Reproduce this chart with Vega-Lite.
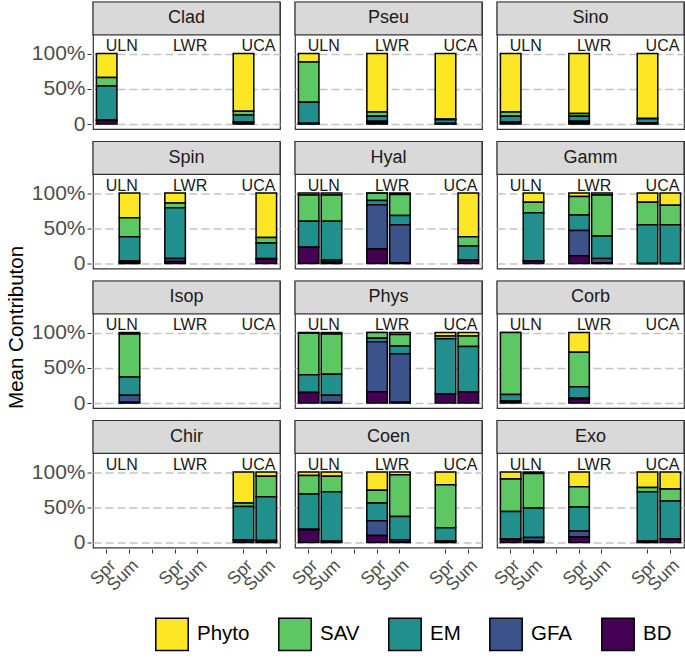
{
  "$schema": "https://vega.github.io/schema/vega-lite/v6.json",
  "padding": {"left": 6, "top": 0, "right": 4, "bottom": 5},
  "title": {"text": "Mean Contributon", "orient": "left", "anchor": "middle", "fontSize": 20.5, "fontWeight": "normal", "color": "black", "offset": 4},
  "config": {
    "font": "Liberation Sans",
    "view": {"stroke": "#333333", "strokeWidth": 1.2, "fill": "white"},
    "background": "white",
    "header": {"labels": false, "title": null, "labelFontSize": 0, "labelPadding": 0}
  },
  "data": {"values": [
    {"t":"Clad","x":"ULN Spr","Phyto":0.34,"SAV":0.12,"EM":0.48,"GFA":0.01,"BD":0.05},
    {"t":"Clad","x":"UCA Spr","Phyto":0.82,"SAV":0.05,"EM":0.10,"GFA":0.01,"BD":0.02},
    {"t":"Pseu","x":"ULN Spr","Phyto":0.12,"SAV":0.57,"EM":0.30,"GFA":0.005,"BD":0.005},
    {"t":"Pseu","x":"LWR Spr","Phyto":0.83,"SAV":0.06,"EM":0.07,"GFA":0.02,"BD":0.02},
    {"t":"Pseu","x":"UCA Spr","Phyto":0.93,"SAV":0.01,"EM":0.05,"GFA":0.005,"BD":0.005},
    {"t":"Sino","x":"ULN Spr","Phyto":0.83,"SAV":0.06,"EM":0.08,"GFA":0.01,"BD":0.02},
    {"t":"Sino","x":"LWR Spr","Phyto":0.85,"SAV":0.04,"EM":0.07,"GFA":0.02,"BD":0.02},
    {"t":"Sino","x":"UCA Spr","Phyto":0.92,"SAV":0.005,"EM":0.06,"GFA":0.005,"BD":0.01},
    {"t":"Spin","x":"ULN Sum","Phyto":0.35,"SAV":0.27,"EM":0.34,"GFA":0.02,"BD":0.02},
    {"t":"Spin","x":"LWR Spr","Phyto":0.14,"SAV":0.07,"EM":0.72,"GFA":0.04,"BD":0.03},
    {"t":"Spin","x":"UCA Sum","Phyto":0.63,"SAV":0.08,"EM":0.22,"GFA":0.005,"BD":0.065},
    {"t":"Hyal","x":"ULN Spr","Phyto":0.03,"SAV":0.37,"EM":0.37,"GFA":0.0,"BD":0.23},
    {"t":"Hyal","x":"ULN Sum","Phyto":0.03,"SAV":0.37,"EM":0.55,"GFA":0.03,"BD":0.02},
    {"t":"Hyal","x":"LWR Spr","Phyto":0.005,"SAV":0.10,"EM":0.06,"GFA":0.63,"BD":0.205},
    {"t":"Hyal","x":"LWR Sum","Phyto":0.02,"SAV":0.30,"EM":0.13,"GFA":0.54,"BD":0.01},
    {"t":"Hyal","x":"UCA Sum","Phyto":0.62,"SAV":0.13,"EM":0.20,"GFA":0.0,"BD":0.05},
    {"t":"Gamm","x":"ULN Sum","Phyto":0.13,"SAV":0.15,"EM":0.68,"GFA":0.005,"BD":0.035},
    {"t":"Gamm","x":"LWR Spr","Phyto":0.05,"SAV":0.26,"EM":0.22,"GFA":0.36,"BD":0.11},
    {"t":"Gamm","x":"LWR Sum","Phyto":0.03,"SAV":0.58,"EM":0.32,"GFA":0.06,"BD":0.01},
    {"t":"Gamm","x":"UCA Spr","Phyto":0.13,"SAV":0.32,"EM":0.55,"GFA":0.0,"BD":0.0},
    {"t":"Gamm","x":"UCA Sum","Phyto":0.175,"SAV":0.275,"EM":0.55,"GFA":0.0,"BD":0.0},
    {"t":"Isop","x":"ULN Sum","Phyto":0.02,"SAV":0.61,"EM":0.26,"GFA":0.10,"BD":0.01},
    {"t":"Phys","x":"ULN Spr","Phyto":0.01,"SAV":0.59,"EM":0.25,"GFA":0.0,"BD":0.15},
    {"t":"Phys","x":"ULN Sum","Phyto":0.02,"SAV":0.57,"EM":0.30,"GFA":0.10,"BD":0.01},
    {"t":"Phys","x":"LWR Spr","Phyto":0.0,"SAV":0.08,"EM":0.05,"GFA":0.71,"BD":0.16},
    {"t":"Phys","x":"LWR Sum","Phyto":0.03,"SAV":0.16,"EM":0.11,"GFA":0.69,"BD":0.01},
    {"t":"Phys","x":"UCA Spr","Phyto":0.05,"SAV":0.04,"EM":0.78,"GFA":0.0,"BD":0.13},
    {"t":"Phys","x":"UCA Sum","Phyto":0.05,"SAV":0.15,"EM":0.64,"GFA":0.0,"BD":0.16},
    {"t":"Corb","x":"ULN Spr","Phyto":0.0,"SAV":0.88,"EM":0.095,"GFA":0.0,"BD":0.025},
    {"t":"Corb","x":"LWR Spr","Phyto":0.28,"SAV":0.49,"EM":0.16,"GFA":0.01,"BD":0.06},
    {"t":"Chir","x":"UCA Spr","Phyto":0.44,"SAV":0.05,"EM":0.47,"GFA":0.005,"BD":0.035},
    {"t":"Chir","x":"UCA Sum","Phyto":0.06,"SAV":0.29,"EM":0.62,"GFA":0.01,"BD":0.02},
    {"t":"Coen","x":"ULN Spr","Phyto":0.05,"SAV":0.26,"EM":0.50,"GFA":0.01,"BD":0.18},
    {"t":"Coen","x":"ULN Sum","Phyto":0.06,"SAV":0.22,"EM":0.70,"GFA":0.01,"BD":0.01},
    {"t":"Coen","x":"LWR Spr","Phyto":0.26,"SAV":0.18,"EM":0.25,"GFA":0.21,"BD":0.10},
    {"t":"Coen","x":"LWR Sum","Phyto":0.04,"SAV":0.59,"EM":0.33,"GFA":0.03,"BD":0.01},
    {"t":"Coen","x":"UCA Spr","Phyto":0.18,"SAV":0.61,"EM":0.19,"GFA":0.0,"BD":0.02},
    {"t":"Exo","x":"ULN Spr","Phyto":0.10,"SAV":0.46,"EM":0.39,"GFA":0.005,"BD":0.045},
    {"t":"Exo","x":"ULN Sum","Phyto":0.02,"SAV":0.49,"EM":0.42,"GFA":0.05,"BD":0.02},
    {"t":"Exo","x":"LWR Spr","Phyto":0.21,"SAV":0.285,"EM":0.34,"GFA":0.085,"BD":0.08},
    {"t":"Exo","x":"UCA Spr","Phyto":0.22,"SAV":0.06,"EM":0.70,"GFA":0.0,"BD":0.02},
    {"t":"Exo","x":"UCA Sum","Phyto":0.24,"SAV":0.17,"EM":0.54,"GFA":0.0,"BD":0.05},
    {"t":"Clad","k":"strip"},{"t":"Pseu","k":"strip"},{"t":"Sino","k":"strip"},
    {"t":"Spin","k":"strip"},{"t":"Hyal","k":"strip"},{"t":"Gamm","k":"strip"},
    {"t":"Isop","k":"strip"},{"t":"Phys","k":"strip"},{"t":"Corb","k":"strip"},
    {"t":"Chir","k":"strip"},{"t":"Coen","k":"strip"},{"t":"Exo","k":"strip"},
    {"t":"Clad","k":"site","x":"ULN Spr","site":"ULN"},{"t":"Clad","k":"site","x":"LWR Spr","site":"LWR"},{"t":"Clad","k":"site","x":"UCA Spr","site":"UCA"},
    {"t":"Pseu","k":"site","x":"ULN Spr","site":"ULN"},{"t":"Pseu","k":"site","x":"LWR Spr","site":"LWR"},{"t":"Pseu","k":"site","x":"UCA Spr","site":"UCA"},
    {"t":"Sino","k":"site","x":"ULN Spr","site":"ULN"},{"t":"Sino","k":"site","x":"LWR Spr","site":"LWR"},{"t":"Sino","k":"site","x":"UCA Spr","site":"UCA"},
    {"t":"Spin","k":"site","x":"ULN Spr","site":"ULN"},{"t":"Spin","k":"site","x":"LWR Spr","site":"LWR"},{"t":"Spin","k":"site","x":"UCA Spr","site":"UCA"},
    {"t":"Hyal","k":"site","x":"ULN Spr","site":"ULN"},{"t":"Hyal","k":"site","x":"LWR Spr","site":"LWR"},{"t":"Hyal","k":"site","x":"UCA Spr","site":"UCA"},
    {"t":"Gamm","k":"site","x":"ULN Spr","site":"ULN"},{"t":"Gamm","k":"site","x":"LWR Spr","site":"LWR"},{"t":"Gamm","k":"site","x":"UCA Spr","site":"UCA"},
    {"t":"Isop","k":"site","x":"ULN Spr","site":"ULN"},{"t":"Isop","k":"site","x":"LWR Spr","site":"LWR"},{"t":"Isop","k":"site","x":"UCA Spr","site":"UCA"},
    {"t":"Phys","k":"site","x":"ULN Spr","site":"ULN"},{"t":"Phys","k":"site","x":"LWR Spr","site":"LWR"},{"t":"Phys","k":"site","x":"UCA Spr","site":"UCA"},
    {"t":"Corb","k":"site","x":"ULN Spr","site":"ULN"},{"t":"Corb","k":"site","x":"LWR Spr","site":"LWR"},{"t":"Corb","k":"site","x":"UCA Spr","site":"UCA"},
    {"t":"Chir","k":"site","x":"ULN Spr","site":"ULN"},{"t":"Chir","k":"site","x":"LWR Spr","site":"LWR"},{"t":"Chir","k":"site","x":"UCA Spr","site":"UCA"},
    {"t":"Coen","k":"site","x":"ULN Spr","site":"ULN"},{"t":"Coen","k":"site","x":"LWR Spr","site":"LWR"},{"t":"Coen","k":"site","x":"UCA Spr","site":"UCA"},
    {"t":"Exo","k":"site","x":"ULN Spr","site":"ULN"},{"t":"Exo","k":"site","x":"LWR Spr","site":"LWR"},{"t":"Exo","k":"site","x":"UCA Spr","site":"UCA"}
  ]},
  "facet": {
    "field": "t",
    "type": "nominal",
    "sort": ["Clad","Pseu","Sino","Spin","Hyal","Gamm","Isop","Phys","Corb","Chir","Coen","Exo"],
    "header": {"labels": false, "title": null, "labelFontSize": 0, "labelPadding": 0, "labelExpr": "''"},
    "title": null
  },
  "columns": 3,
  "spacing": {"row": 9.5, "column": 11},
  "spec": {
    "width": 187,
    "height": 127,
    "layer": [
      {
        "transform": [
          {"filter": "isValid(datum.Phyto)"},
          {"fold": ["Phyto","SAV","EM","GFA","BD"], "as": ["s","v"]},
          {"calculate": "indexof(['BD','GFA','EM','SAV','Phyto'], datum.s)", "as": "o"}
        ],
        "mark": {"type": "bar", "stroke": "black", "strokeWidth": 1.5},
        "encoding": {
          "x": {
            "field": "x", "type": "nominal", "title": null,
            "scale": {"domain": ["ULN Spr","ULN Sum","g1","LWR Spr","LWR Sum","g2","UCA Spr","UCA Sum"], "paddingInner": 0.1, "paddingOuter": 0.15},
            "axis": {
              "values": ["ULN Spr","ULN Sum","g1","LWR Spr","LWR Sum","UCA Spr","UCA Sum"],
              "labelExpr": "datum.value == 'g1' ? '' : slice(datum.value, 4)",
              "labelAngle": -45, "labelFontSize": 17.5, "labelColor": "#4d4d4d",
              "tickColor": "#333333", "tickSize": 4, "domain": false, "grid": false, "labelPadding": 3
            }
          },
          "y": {
            "field": "v", "type": "quantitative", "stack": "zero", "title": null,
            "scale": {"domain": [-0.07, 1.73], "nice": false, "zero": false},
            "axis": {
              "values": [0, 0.25, 0.5, 0.75, 1],
              "labelExpr": "datum.value == 0 ? '0' : datum.value == 0.5 ? '50%' : datum.value == 1 ? '100%' : ''",
              "labelFontSize": 21, "labelColor": "#4d4d4d", "tickColor": "#333333", "tickSize": 4,
              "domain": false,
              "grid": true, "gridDash": [8, 4], "gridColor": "#c4c4c4", "gridWidth": 1.5
            }
          },
          "color": {
            "field": "s", "type": "nominal",
            "scale": {"domain": ["Phyto","SAV","EM","GFA","BD"], "range": ["#FDE725","#5DC863","#21908C","#3B528B","#440154"]},
            "legend": {
              "orient": "none", "legendX": 62, "legendY": 615, "direction": "horizontal", "title": null,
              "symbolType": "square", "symbolSize": 1050, "symbolStrokeColor": "black", "symbolStrokeWidth": 1.5,
              "labelFontSize": 20.5, "labelColor": "black", "columnPadding": 25, "labelOffset": 8
            }
          },
          "order": {"field": "o", "type": "quantitative"}
        }
      },
      {
        "transform": [{"filter": "datum.k == 'strip'"}],
        "mark": {"type": "rect", "fill": "#d9d9d9", "stroke": "#333333", "strokeWidth": 1.2},
        "encoding": {
          "y": {"datum": 1.265, "type": "quantitative"},
          "y2": {"datum": 1.73}
        }
      },
      {
        "transform": [{"filter": "datum.k == 'strip'"}],
        "mark": {"type": "text", "fontSize": 18, "color": "#1a1a1a", "baseline": "middle"},
        "encoding": {
          "y": {"datum": 1.4975, "type": "quantitative"},
          "text": {"field": "t"}
        }
      },
      {
        "transform": [{"filter": "datum.k == 'site'"}],
        "mark": {"type": "text", "fontSize": 16, "color": "#1a1a1a", "baseline": "alphabetic", "dx": 15},
        "encoding": {
          "x": {"field": "x", "type": "nominal", "title": null},
          "y": {"datum": 1.035, "type": "quantitative"},
          "text": {"field": "site"}
        }
      }
    ]
  }
}
